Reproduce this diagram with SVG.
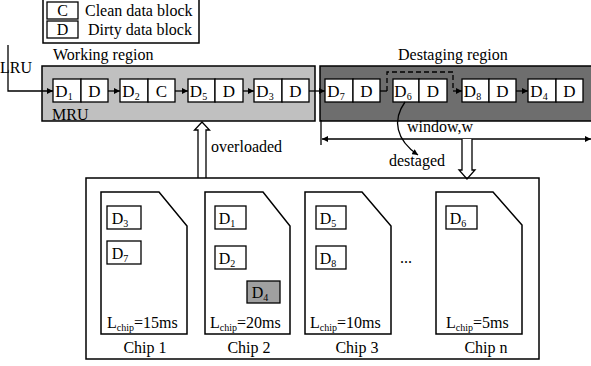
<svg xmlns="http://www.w3.org/2000/svg" width="591" height="366" viewBox="0 0 591 366" font-family="'Liberation Serif', 'Times New Roman', 'DejaVu Serif', serif">
<style>
text{font-family:'Liberation Serif','Times New Roman','DejaVu Serif',serif;fill:#000}
.t{font-size:16px}
.b{font-size:17px;text-anchor:middle}
.s{font-size:10px}
.cell{fill:#fff;stroke:#000;stroke-width:1.3}
.ln{fill:none;stroke:#000;stroke-width:1.3}
.chip{fill:#fff;stroke:#000;stroke-width:1.5}
</style>
<defs>
<marker id="ah" viewBox="0 0 8 8" refX="8" refY="4" markerWidth="6" markerHeight="6" orient="auto" markerUnits="userSpaceOnUse"><path d="M0,0 L8,4 L0,8 z" fill="#000"/></marker>
</defs>
<rect width="591" height="366" fill="#fff"/>
<g id="legend">
<rect x="43" y="-2" width="156" height="45" fill="#fff" stroke="#000" stroke-width="1.5"/>
<rect x="47" y="2" width="31" height="17" class="cell"/><text x="62.5" y="16" class="b" style="font-size:16px">C</text>
<text x="85" y="16" class="t">Clean data block</text>
<rect x="47" y="21" width="31" height="17" class="cell"/><text x="62.5" y="35" class="b" style="font-size:16px">D</text>
<text x="88" y="35" class="t">Dirty data block</text>
</g>
<g id="working-region">
<rect x="42" y="66" width="273" height="55" fill="#c0c0c0" stroke="#000" stroke-width="1.5"/>
<text x="53" y="60" class="t">Working region</text>
<text x="52" y="120" class="t">MRU</text>
</g>
<g id="destaging-region">
<rect x="320" y="66" width="275" height="55" fill="#6e6e6e" stroke="#000" stroke-width="1.5"/>
<text x="398" y="60" class="t">Destaging  region</text>
</g>
<text x="0" y="73" class="t">LRU</text>
<g id="D1"><rect x="53" y="79" width="28" height="23" class="cell"/><rect x="81" y="79" width="27" height="23" class="cell"/><text x="64" y="97" class="b">D<tspan class="s" dy="3">1</tspan></text><text x="94.5" y="97" class="b">D</text></g>
<g id="D2"><rect x="120" y="79" width="28" height="23" class="cell"/><rect x="148" y="79" width="27" height="23" class="cell"/><text x="131" y="97" class="b">D<tspan class="s" dy="3">2</tspan></text><text x="161.5" y="97" class="b">C</text></g>
<g id="D5"><rect x="188" y="79" width="27" height="23" class="cell"/><rect x="215" y="79" width="28" height="23" class="cell"/><text x="198.5" y="97" class="b">D<tspan class="s" dy="3">5</tspan></text><text x="229" y="97" class="b">D</text></g>
<g id="D3"><rect x="254" y="79" width="28" height="23" class="cell"/><rect x="282" y="79" width="27" height="23" class="cell"/><text x="265" y="97" class="b">D<tspan class="s" dy="3">3</tspan></text><text x="295.5" y="97" class="b">D</text></g>
<g id="D7"><rect x="325" y="79" width="28" height="23" class="cell"/><rect x="353" y="79" width="27" height="23" class="cell"/><text x="336" y="97" class="b">D<tspan class="s" dy="3">7</tspan></text><text x="366.5" y="97" class="b">D</text></g>
<g id="D6"><rect x="393" y="79" width="26" height="23" class="cell"/><rect x="419" y="79" width="28" height="23" class="cell"/><text x="403" y="97" class="b">D<tspan class="s" dy="3">6</tspan></text><text x="433" y="97" class="b">D</text></g>
<g id="D8"><rect x="462" y="79" width="27" height="23" class="cell"/><rect x="489" y="79" width="27" height="23" class="cell"/><text x="472.5" y="97" class="b">D<tspan class="s" dy="3">8</tspan></text><text x="502.5" y="97" class="b">D</text></g>
<g id="D4"><rect x="528" y="79" width="28" height="23" class="cell"/><rect x="556" y="79" width="27" height="23" class="cell"/><text x="539" y="97" class="b">D<tspan class="s" dy="3">4</tspan></text><text x="569.5" y="97" class="b">D</text></g>
<g id="connectors">
<polyline points="8,45 8,91 53,91" class="ln" marker-end="url(#ah)"/>
<line x1="108" y1="91" x2="120" y2="91" class="ln" marker-end="url(#ah)"/>
<line x1="175" y1="91" x2="188" y2="91" class="ln" marker-end="url(#ah)"/>
<line x1="243" y1="91" x2="254" y2="91" class="ln" marker-end="url(#ah)"/>
<line x1="309" y1="91" x2="325" y2="91" class="ln" marker-end="url(#ah)"/>
<line x1="380" y1="91" x2="387" y2="91" class="ln"/>
<polyline points="387,91 387,72 453,72 453,91" class="ln" stroke-dasharray="5,3"/>
<line x1="453" y1="91" x2="462" y2="91" class="ln" marker-end="url(#ah)"/>
<line x1="516" y1="91" x2="528" y2="91" class="ln" marker-end="url(#ah)"/>
<path d="M405,102 C392,120 396,140 418,155" class="ln" marker-end="url(#ah)"/>
<line x1="321" y1="120" x2="321" y2="145" class="ln"/>
<line x1="450" y1="139" x2="322" y2="139" class="ln" marker-end="url(#ah)"/>
<line x1="450" y1="139" x2="591" y2="139" class="ln" marker-end="url(#ah)"/>
<path d="M198,178 L198,130 L194.5,130 L202,122 L209.5,130 L206,130 L206,178" fill="#fff" stroke="#000" stroke-width="1.3"/>
<path d="M462,139 L462,170 L459,170 L467,179 L475,170 L472,170 L472,139" fill="#fff" stroke="#000" stroke-width="1.3"/>
</g>
<text x="407" y="132" class="t">window,w</text>
<text x="389" y="166" class="t">destaged</text>
<text x="211" y="152" class="t">overloaded</text>
<g id="chips">
<rect x="86" y="178" width="453" height="181" fill="none" stroke="#000" stroke-width="1.5"/>
<g id="chip1">
<path d="M101,192 L159,192 L187,226 L187,334 L101,334 Z" class="chip"/>
<rect x="107" y="206" width="34" height="23" class="cell"/><text x="120" y="224" class="b" style="font-size:16px">D<tspan class="s" dy="3">3</tspan></text>
<rect x="107" y="241" width="34" height="23" class="cell"/><text x="120" y="259" class="b" style="font-size:16px">D<tspan class="s" dy="3">7</tspan></text>
<text x="107" y="328" class="t">L<tspan class="s" dy="3">chip</tspan><tspan dy="-3">=15ms</tspan></text>
<text x="145" y="353" class="t" text-anchor="middle">Chip 1</text>
</g>
<g id="chip2">
<path d="M205,192 L263,192 L290,226 L290,334 L205,334 Z" class="chip"/>
<rect x="215" y="206" width="31" height="23" class="cell"/><text x="227" y="224" class="b" style="font-size:16px">D<tspan class="s" dy="3">1</tspan></text>
<rect x="215" y="246" width="31" height="23" class="cell"/><text x="227" y="264" class="b" style="font-size:16px">D<tspan class="s" dy="3">2</tspan></text>
<rect x="247" y="281" width="33" height="22" fill="#a0a0a0" stroke="#000" stroke-width="1.3"/><text x="260" y="298" class="b" style="font-size:16px">D<tspan class="s" dy="3">4</tspan></text>
<text x="210" y="328" class="t">L<tspan class="s" dy="3">chip</tspan><tspan dy="-3">=20ms</tspan></text>
<text x="249" y="353" class="t" text-anchor="middle">Chip 2</text>
</g>
<g id="chip3">
<path d="M305,192 L362,192 L391,226 L391,334 L305,334 Z" class="chip"/>
<rect x="316" y="206" width="30" height="23" class="cell"/><text x="328" y="224" class="b" style="font-size:16px">D<tspan class="s" dy="3">5</tspan></text>
<rect x="316" y="246" width="30" height="23" class="cell"/><text x="328" y="264" class="b" style="font-size:16px">D<tspan class="s" dy="3">8</tspan></text>
<text x="310" y="328" class="t">L<tspan class="s" dy="3">chip</tspan><tspan dy="-3">=10ms</tspan></text>
<text x="357" y="353" class="t" text-anchor="middle">Chip 3</text>
</g>
<text x="406" y="263" class="t" text-anchor="middle">...</text>
<g id="chipn">
<path d="M436,192 L493,192 L522,225 L522,334 L436,334 Z" class="chip"/>
<rect x="446" y="206" width="31" height="23" class="cell"/><text x="458" y="224" class="b" style="font-size:16px">D<tspan class="s" dy="3">6</tspan></text>
<text x="446" y="328" class="t">L<tspan class="s" dy="3">chip</tspan><tspan dy="-3">=5ms</tspan></text>
<text x="486" y="353" class="t" text-anchor="middle">Chip n</text>
</g>
</g>
</svg>
